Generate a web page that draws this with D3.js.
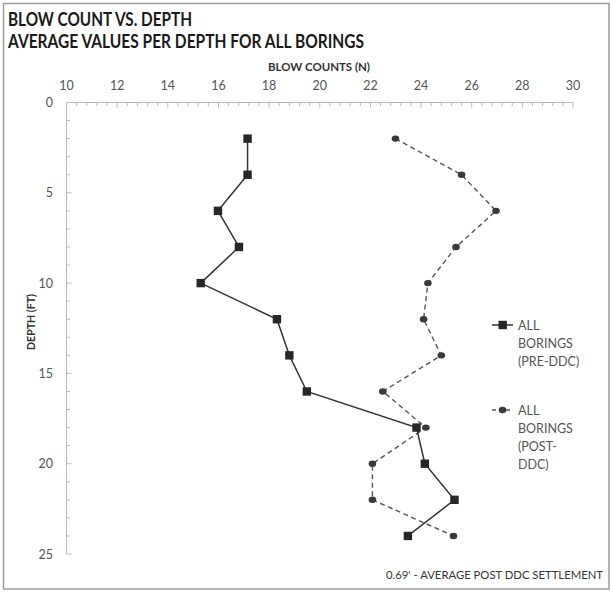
<!DOCTYPE html>
<html>
<head>
<meta charset="utf-8">
<script src="https://cdn.jsdelivr.net/npm/d3@7"></script>
<style>
  html, body { margin: 0; padding: 0; background: #fff; }
  svg { display: block; font-family: Lato, "Open Sans", sans-serif; }
</style>
</head>
<body>
<svg id="chart" width="611" height="592"></svg>
<script>
// Average SPT blow counts per sampling depth, before and after dynamic compaction
const depths = [2, 4, 6, 8, 10, 12, 14, 16, 18, 20, 22, 24];
const preDDC = [17.15, 17.15, 15.98, 16.81, 15.30, 18.31, 18.80, 19.49, 23.82, 24.15, 25.32, 23.48];
const postDDC = [22.99, 25.60, 26.96, 25.38, 24.27, 24.10, 24.80, 22.49, 24.19, 22.08, 22.08, 25.28];
const xTicks = [10, 12, 14, 16, 18, 20, 22, 24, 26, 28, 30];
const yTicks = [0, 5, 10, 15, 20, 25];
const seriesNames = [["ALL", "BORINGS", "(PRE-DDC)"], ["ALL", "BORINGS", "(POST-", "DDC)"]];

const svg = d3.select("#chart");

// outer frame
svg.append("rect")
  .attr("x", 3.5).attr("y", 3.5).attr("width", 605.5).attr("height", 585.5)
  .attr("fill", "none").attr("stroke", "#9a9a9a").attr("stroke-width", 1.5);

// titles
svg.append("text").attr("x", 8).attr("y", 26)
  .attr("font-size", 18).attr("font-weight", 700).attr("fill", "#1a1a1a")
  .attr("textLength", 184).attr("lengthAdjust", "spacingAndGlyphs")
  .text("BLOW COUNT VS. DEPTH");
svg.append("text").attr("x", 8).attr("y", 48)
  .attr("font-size", 18).attr("font-weight", 700).attr("fill", "#1a1a1a")
  .attr("textLength", 356).attr("lengthAdjust", "spacingAndGlyphs")
  .text("AVERAGE VALUES PER DEPTH FOR ALL BORINGS");

const x = d3.scaleLinear().domain([10, 30]).range([66.5, 573]);
const y = d3.scaleLinear().domain([0, 25]).range([102.5, 554]);

const axisColor = "#b8b8b8";

// top x axis: minor ticks every 0.4, major every 2
const gx = svg.append("g");
gx.append("line").attr("x1", x(10)).attr("x2", x(30)).attr("y1", y(0)).attr("y2", y(0))
  .attr("stroke", axisColor);
d3.range(0, 51).forEach(i => {
  const v = 10 + i * 0.4;
  const major = i % 5 === 0;
  gx.append("line")
    .attr("x1", x(v)).attr("x2", x(v))
    .attr("y1", y(0)).attr("y2", y(0) + (major ? 5 : 3.5))
    .attr("stroke", axisColor);
});
gx.selectAll("text.xt").data(xTicks).join("text")
  .attr("class", "xt")
  .attr("x", d => x(d)).attr("y", 90)
  .attr("text-anchor", "middle").attr("font-size", 12.5).attr("fill", "#555")
  .text(d => d);
svg.append("text").attr("x", 319).attr("y", 71)
  .attr("text-anchor", "middle").attr("font-size", 11).attr("font-weight", 700).attr("fill", "#333")
  .attr("textLength", 102).attr("lengthAdjust", "spacingAndGlyphs")
  .text("BLOW COUNTS (N)");

// left y axis: minor ticks every 1 ft
const gy = svg.append("g");
gy.append("line").attr("x1", x(10)).attr("x2", x(10)).attr("y1", y(0)).attr("y2", y(25))
  .attr("stroke", axisColor);
d3.range(0, 26).forEach(v => {
  gy.append("line")
    .attr("x1", x(10)).attr("x2", x(10) + (v % 5 === 0 ? 5 : 3.5))
    .attr("y1", y(v)).attr("y2", y(v))
    .attr("stroke", axisColor);
});
gy.selectAll("text.yt").data(yTicks).join("text")
  .attr("class", "yt")
  .attr("x", 53).attr("y", d => y(d) + 4.5)
  .attr("text-anchor", "end").attr("font-size", 12.5).attr("fill", "#555")
  .text(d => d);
svg.append("text")
  .attr("transform", "translate(35,322) rotate(-90)")
  .attr("text-anchor", "middle").attr("font-size", 12).attr("font-weight", 700).attr("fill", "#333")
  .attr("textLength", 56).attr("lengthAdjust", "spacingAndGlyphs")
  .text("DEPTH (FT)");

// series
const preData = depths.map((d, i) => [preDDC[i], d]);
const postData = depths.map((d, i) => [postDDC[i], d]);
const line = d3.line().x(d => x(d[0])).y(d => y(d[1]));

svg.append("path").attr("d", line(postData))
  .attr("fill", "none").attr("stroke", "#555").attr("stroke-width", 1.4)
  .attr("stroke-dasharray", "5,3.5");
svg.append("path").attr("d", line(preData))
  .attr("fill", "none").attr("stroke", "#333").attr("stroke-width", 1.5);

svg.selectAll("ellipse.post").data(postData).join("ellipse")
  .attr("class", "post")
  .attr("cx", d => x(d[0])).attr("cy", d => y(d[1]))
  .attr("rx", 3.8).attr("ry", 3.2).attr("fill", "#3a3a3a");
svg.selectAll("rect.pre").data(preData).join("rect")
  .attr("class", "pre")
  .attr("x", d => x(d[0]) - 4.2).attr("y", d => y(d[1]) - 4.2)
  .attr("width", 8.4).attr("height", 8.4).attr("fill", "#262626");

// legend
const legend = svg.append("g");
const legendTops = [325, 410];
seriesNames.forEach((lines, k) => {
  const ly = legendTops[k];
  const l = legend.append("line")
    .attr("x1", 492).attr("x2", 513).attr("y1", ly).attr("y2", ly)
    .attr("stroke", k === 0 ? "#333" : "#555").attr("stroke-width", 1.5);
  if (k === 1) l.attr("stroke-dasharray", "4,3");
  if (k === 0) {
    legend.append("rect").attr("x", 498.5).attr("y", ly - 4.2).attr("width", 8.4).attr("height", 8.4)
      .attr("fill", "#262626");
  } else {
    legend.append("ellipse").attr("cx", 502.5).attr("cy", ly).attr("rx", 3.8).attr("ry", 3.2)
      .attr("fill", "#3a3a3a");
  }
  lines.forEach((t, j) => {
    legend.append("text").attr("x", 518).attr("y", ly + 4.5 + j * 18)
      .attr("font-size", 12.5).attr("fill", "#555").text(t);
  });
});

// settlement note
svg.append("text").attr("x", 603).attr("y", 579)
  .attr("text-anchor", "end").attr("font-size", 11.3).attr("fill", "#333")
  .text("0.69' - AVERAGE POST DDC SETTLEMENT");
</script>
</body>
</html>
